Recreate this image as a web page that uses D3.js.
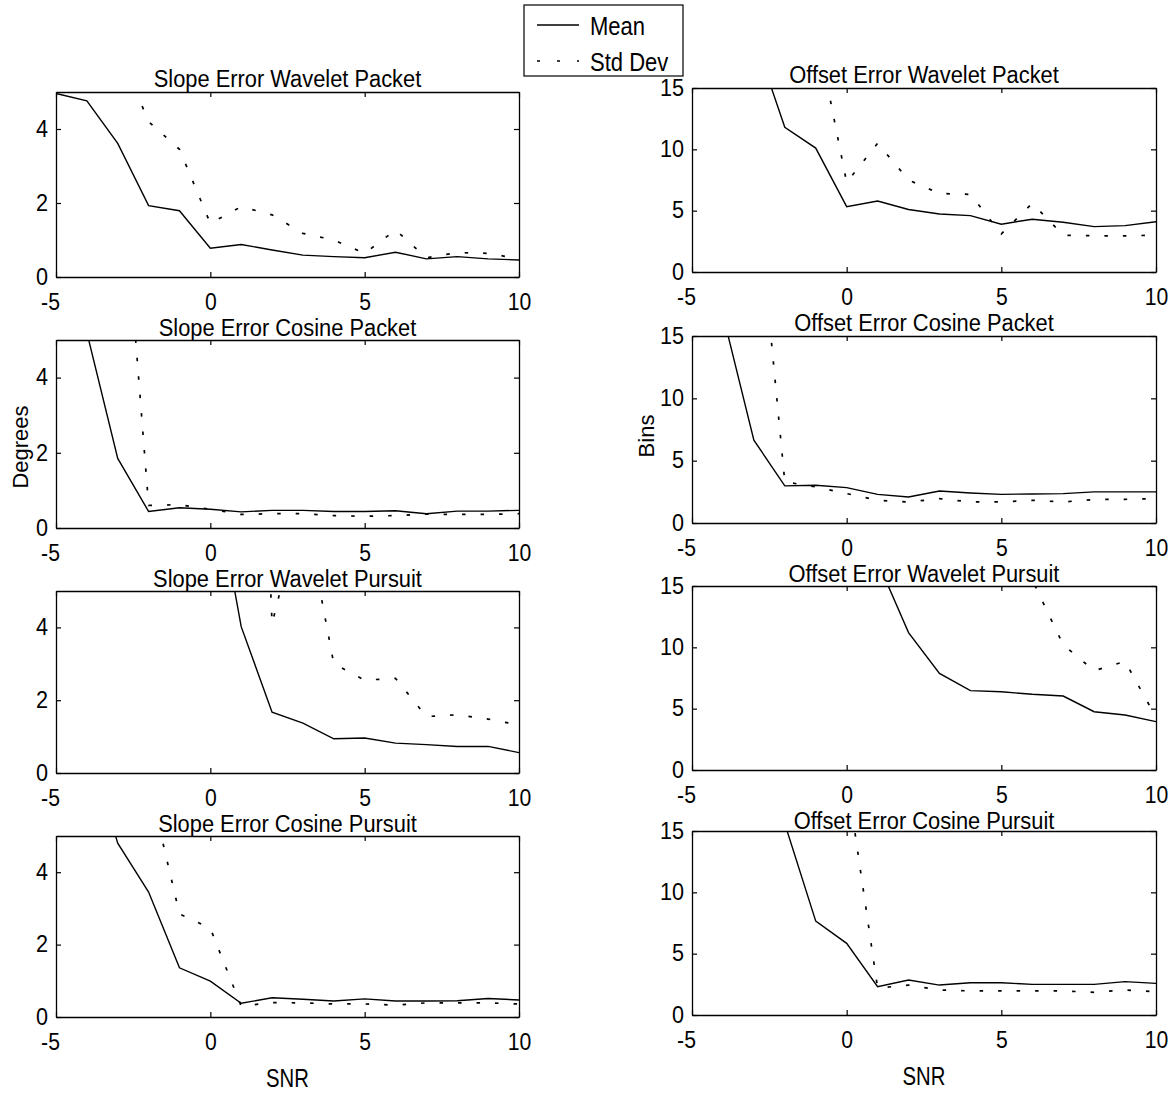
<!DOCTYPE html>
<html><head><meta charset="utf-8">
<script src="https://cdn.jsdelivr.net/npm/d3@7/dist/d3.min.js"></script>
<style>
body{margin:0;background:#fff;}
svg text{font-family:"Liberation Sans",Arial,Helvetica,sans-serif;fill:#000;}
</style></head><body>
<svg id="chart" width="1175" height="1099"></svg>
<script>
// ---------- data ----------
const snr = [-5,-4,-3,-2,-1,0,1,2,3,4,5,6,7,8,9,10];
const xTicks = [-5,0,5,10];
const slopeTicks = [0,2,4];
const offsetTicks = [0,5,10,15];
const seriesNames = ["Mean","Std Dev"];

const slopeWaveletPacketMean = [4.96,4.76,3.61,1.93,1.79,0.78,0.88,0.73,0.59,0.55,0.52,0.67,0.49,0.55,0.49,0.46];
const slopeWaveletPacketStd  = [9.0,8.0,6.2,4.2,3.45,1.45,1.9,1.68,1.18,1.0,0.64,1.27,0.52,0.66,0.64,0.49];

const offsetWaveletPacketMean = [30,25,19.2,11.8,10.1,5.33,5.79,5.1,4.73,4.6,3.9,4.3,4.05,3.7,3.78,4.1];
const offsetWaveletPacketStd  = [40,35,28,24,20,7.3,10.5,7.5,6.4,6.33,3.1,5.6,3.0,2.95,2.95,3.0];

const slopeCosinePacketMean = [9,5.2,1.85,0.44,0.54,0.5,0.43,0.47,0.47,0.44,0.44,0.46,0.38,0.45,0.45,0.47];
const slopeCosinePacketStd  = [15,13,11.1,0.6,0.62,0.5,0.36,0.38,0.38,0.33,0.31,0.33,0.37,0.36,0.36,0.38];

const offsetCosinePacketMean = [25,16.7,6.65,2.98,3.03,2.84,2.3,2.09,2.57,2.41,2.3,2.33,2.36,2.5,2.5,2.5];
const offsetCosinePacketStd  = [40,35,29.3,3.3,2.9,2.36,1.82,1.69,1.95,1.69,1.69,1.82,1.69,1.88,1.9,1.95];

const slopeWaveletPursuitMean = [20,17,14,12,10,8.7,4.02,1.67,1.37,0.94,0.96,0.82,0.78,0.73,0.73,0.56];
const slopeWaveletPursuitStd  = [40,38,35,32,28,26,25,4.1,7.5,3.0,2.55,2.6,1.55,1.6,1.48,1.32];

const offsetWaveletPursuitMean = [35,32,28,24,20,18.5,17,11.2,7.88,6.47,6.38,6.17,6.03,4.75,4.48,3.94];
const offsetWaveletPursuitStd  = [60,55,50,45,40,35,30,26,22,19,19,15.5,10.2,8.1,8.85,4.3];

const slopeCosinePursuitMean = [10,7.7,4.8,3.45,1.36,0.99,0.38,0.53,0.49,0.44,0.5,0.44,0.44,0.45,0.51,0.47];
const slopeCosinePursuitStd  = [14,12,10,6.5,2.85,2.45,0.3,0.4,0.39,0.36,0.36,0.33,0.39,0.39,0.39,0.36];

const offsetCosinePursuitMean = [30,24,20,15.6,7.65,5.84,2.31,2.85,2.44,2.63,2.63,2.5,2.5,2.5,2.72,2.58];
const offsetCosinePursuitStd  = [45,40,35,30,25,19.5,2.2,2.44,2.04,1.96,1.96,1.96,1.96,1.85,2.04,1.9];

const titles = [
  "Slope Error Wavelet Packet","Offset Error Wavelet Packet",
  "Slope Error Cosine Packet","Offset Error Cosine Packet",
  "Slope Error Wavelet Pursuit","Offset Error Wavelet Pursuit",
  "Slope Error Cosine Pursuit","Offset Error Cosine Pursuit"
];
const means = [slopeWaveletPacketMean,offsetWaveletPacketMean,slopeCosinePacketMean,offsetCosinePacketMean,
               slopeWaveletPursuitMean,offsetWaveletPursuitMean,slopeCosinePursuitMean,offsetCosinePursuitMean];
const stds  = [slopeWaveletPacketStd,offsetWaveletPacketStd,slopeCosinePacketStd,offsetCosinePacketStd,
               slopeWaveletPursuitStd,offsetWaveletPursuitStd,slopeCosinePursuitStd,offsetCosinePursuitStd];

// ---------- layout ----------
const colX = [[56,519],[692,1156]];
const rowY = [
  [[92,277],[88,272]],
  [[340,528],[336,523]],
  [[591,773],[586,770]],
  [[836,1017],[831,1015]]
];
const xLabBase = 33.2;   // baseline of x tick labels below axis
const titleFs = 23;

const svg = d3.select("#chart");
const dotted = "3.5,15";

function squeeze(sel, f){
  sel.each(function(){
    const w = this.getComputedTextLength();
    d3.select(this).attr("textLength", w*f).attr("lengthAdjust","spacingAndGlyphs");
  });
}

titles.forEach((title, i) => {
  const col = i % 2, row = Math.floor(i/2);
  const [x0,x1] = colX[col];
  const [y0,y1] = rowY[row][col];
  const isSlope = col === 0;
  const yMax = isSlope ? 5 : 15;
  const yTickVals = isSlope ? slopeTicks : offsetTicks;

  const x = d3.scaleLinear().domain([-5,10]).range([x0,x1]);
  const y = d3.scaleLinear().domain([0,yMax]).range([y1,y0]);

  const g = svg.append("g");
  const clipId = "clip"+i;
  svg.append("clipPath").attr("id",clipId).append("rect")
     .attr("x",x0).attr("y",y0).attr("width",x1-x0).attr("height",y1-y0);

  const line = d3.line().x((d,j)=>x(snr[j])).y(d=>y(d));
  g.append("path").datum(means[i]).attr("d",line)
    .attr("fill","none").attr("stroke","#000").attr("stroke-width",1.4)
    .attr("clip-path",`url(#${clipId})`);
  g.append("path").datum(stds[i]).attr("d",line)
    .attr("fill","none").attr("stroke","#000").attr("stroke-width",1.7)
    .attr("stroke-dasharray",dotted)
    .attr("clip-path",`url(#${clipId})`);

  // axes (inward ticks on all sides, matlab style)
  const tl = 5;
  const fmt = d => String(d);
  const axB = d3.axisBottom(x).tickValues(xTicks).tickSizeInner(-tl).tickSizeOuter(0).tickFormat(fmt);
  const axT = d3.axisTop(x).tickValues(xTicks).tickSizeInner(-tl).tickSizeOuter(0).tickFormat("");
  const axL = d3.axisLeft(y).tickValues(yTickVals).tickSizeInner(-tl).tickSizeOuter(0).tickFormat(fmt);
  const axR = d3.axisRight(y).tickValues(yTickVals).tickSizeInner(-tl).tickSizeOuter(0).tickFormat("");

  const gb = g.append("g").attr("transform",`translate(0,${y1})`).call(axB);
  const gt = g.append("g").attr("transform",`translate(0,${y0})`).call(axT);
  const gl = g.append("g").attr("transform",`translate(${x0},0)`).call(axL);
  const gr = g.append("g").attr("transform",`translate(${x1},0)`).call(axR);
  [gb,gt,gl,gr].forEach(a=>{
    a.attr("font-family",null).attr("font-size",null);
    a.select(".domain").attr("stroke","#000").attr("stroke-width",1.3);
    a.selectAll(".tick line").attr("stroke","#000").attr("stroke-width",1.2);
  });
  gb.selectAll(".tick text").attr("y",0).attr("dy",null)
    .attr("transform",`translate(0,${xLabBase})`)
    .style("font-size","23px");
  gb.selectAll(".tick text").filter(d=>d<0).attr("dx",-6);
  squeeze(gb.selectAll(".tick text"), 0.92);
  gl.selectAll(".tick text").attr("x",-8).attr("dy","0.3em")
    .style("font-size","24px");
  squeeze(gl.selectAll(".tick text"), 0.9);

  // title, kept clear of the tick labels of the panel above
  let tb = y0 - 5;
  if (row > 0) {
    const prevBottom = rowY[row-1][col][1];
    tb = Math.max(tb, prevBottom + xLabBase + 0.212*23 + 0.905*titleFs + 0.6);
  }
  const t = svg.append("text")
    .attr("x",(x0+x1)/2).attr("y",tb)
    .attr("text-anchor","middle").style("font-size",titleFs+"px").text(title);
  squeeze(t, 0.95);

  if (row === 3) {
    const s = svg.append("text").attr("x",(x0+x1)/2).attr("y",y1+70)
      .attr("text-anchor","middle").style("font-size","26px").text("SNR");
    squeeze(s, 0.78);
  }
  if (row === 1) {
    const lab = col === 0 ? "Degrees" : "Bins";
    const lx = col === 0 ? 28 : 654;
    const cy = col === 0 ? 447 : 436;
    svg.append("text").attr("transform",`translate(${lx},${cy}) rotate(-90)`)
      .attr("text-anchor","middle").style("font-size","22px").text(lab);
  }
});

// ---------- legend ----------
const leg = svg.append("g");
leg.append("rect").attr("x",524).attr("y",5).attr("width",159).attr("height",71)
  .attr("fill","#fff").attr("stroke","#000").attr("stroke-width",1.2);
const legX = d3.scaleLinear().domain([0,1]).range([537,579]);
const legY = d3.scalePoint().domain(seriesNames).range([25,61]);
seriesNames.forEach((name,k)=>{
  leg.append("line").attr("x1",legX(0)).attr("x2",legX(1))
    .attr("y1",legY(name)).attr("y2",legY(name))
    .attr("stroke","#000").attr("stroke-width",k?1.7:1.3)
    .attr("stroke-dasharray",k?"3,17":null);
  const tx = leg.append("text").attr("x",590).attr("y",legY(name)+9.5)
    .style("font-size","25px").text(name);
  squeeze(tx, 0.88);
});
</script>
</body></html>
